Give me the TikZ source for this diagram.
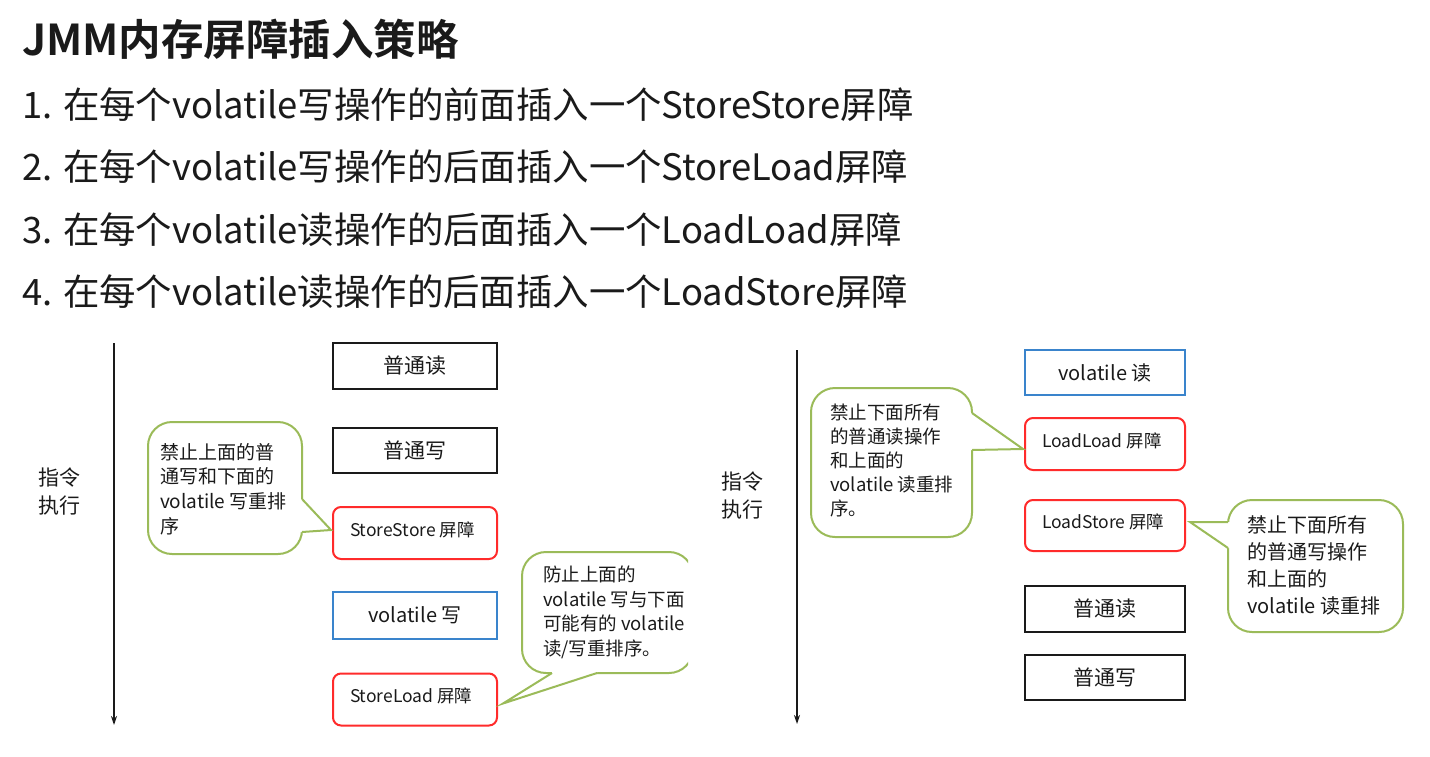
\documentclass[tikz,border=0pt]{standalone}
\usepackage{fontspec}
\setmainfont{Noto Sans CJK SC}
\newfontfamily\titlefont{Noto Sans CJK SC Bold}
\usetikzlibrary{arrows.meta}
\definecolor{barred}{HTML}{FF2B2B}
\definecolor{volblue}{HTML}{3A84CC}
\definecolor{tipgreen}{HTML}{9BBB59}
\definecolor{ink}{HTML}{1A1A1A}
\begin{document}
\begin{tikzpicture}[x=1pt,y=-1pt,
  every node/.style={inner sep=0pt, outer sep=0pt, text=ink},
  rulefont/.style={font=\fontsize{36.4}{43}\selectfont},
  plainbox/.style={draw=ink, line width=2.4pt, minimum height=46pt, font=\fontsize{21}{25}\selectfont},
  bluebox/.style={draw=volblue, line width=2pt, minimum height=46pt, font=\fontsize{20}{24}\selectfont},
  redbox/.style={draw=barred, line width=2pt, rounded corners=8pt, minimum height=52pt},
  boxlabel/.style={anchor=west, font=\fontsize{17.5}{21}\selectfont},
  bubble/.style={draw=tipgreen, line width=2pt, fill=white, rounded corners=24pt},
  bubbletip/.style={draw=tipgreen, line width=2pt, line join=miter},
  bubbletext/.style={anchor=north west, align=left},
  flowarrow/.style={draw=ink, line width=1.5pt, -{Stealth[length=9pt,width=6pt]}},
  sidelabel/.style={anchor=north west, align=left, font=\fontsize{21}{28}\selectfont}
]
\useasboundingbox (0,0) rectangle (1430,756);

% heading
\node[anchor=base west, font=\titlefont\fontsize{42.5}{50}\selectfont] (title) at (22,55.5) {JMM内存屏障插入策略};
\node[anchor=base west, rulefont] (r1) at (22,118) {1. 在每个volatile写操作的前面插入一个StoreStore屏障};
\node[anchor=base west, rulefont] (r2) at (22,180.5) {2. 在每个volatile写操作的后面插入一个StoreLoad屏障};
\node[anchor=base west, rulefont] (r3) at (22,243) {3. 在每个volatile读操作的后面插入一个LoadLoad屏障};
\node[anchor=base west, rulefont] (r4) at (22,305) {4. 在每个volatile读操作的后面插入一个LoadStore屏障};

% ---------- left diagram ----------
\coordinate (la) at (114,343);
\coordinate (lb) at (114,725);
\draw[flowarrow] (la) -- (lb);
\node[sidelabel] (lab1) at (38,468) {指令\\执行};

\node[plainbox, minimum width=164pt, minimum height=46pt] (pr1) at (415,366) {普通读};
\node[plainbox, minimum width=164pt, minimum height=45pt] (pw1) at (415,450.5) {普通写};
\node[redbox, minimum width=164pt] (ss) at (415,533) {};
\node[boxlabel] (sst) at (350,530) {StoreStore 屏障};
\node[bluebox, minimum width=164pt, minimum height=47pt] (vw) at (415,615.5) {volatile 写};
\node[redbox, minimum width=164pt] (sl) at (415,699.5) {};
\node[boxlabel] (slt) at (350,696) {StoreLoad 屏障};

% bubble 1
\draw[bubble] (148,422) rectangle (302,554);
\coordinate (b1a) at (302,499);
\coordinate (b1t) at ([xshift=-2pt,yshift=3pt]ss.west);
\coordinate (b1b) at (302,532);
\fill[white] (298,499) -- (b1a) -- (b1t) -- (b1b) -- (298,532) -- cycle;
\draw[bubbletip] (b1a) -- (b1t) -- (b1b);
\node[bubbletext, font=\fontsize{19}{24.7}\selectfont] (t1) at (160,443) {禁止上面的普\\通写和下面的\\volatile 写重排\\序};

% bubble 2 (cut off on the right)
\begin{scope}
\clip (0,0) rectangle (688,756);
\draw[bubble] (522,552) rectangle (693,673);
\end{scope}
\coordinate (b2a) at (552,673);
\coordinate (b2t) at ([xshift=6pt,yshift=-4pt]sl.east);
\coordinate (b2b) at (597,673);
\fill[white] (552,668) -- (b2a) -- (b2t) -- (b2b) -- (597,668) -- cycle;
\draw[bubbletip] (b2a) -- (b2t) -- (b2b);
\node[bubbletext, font=\fontsize{18.5}{24.5}\selectfont] (t2) at (543,566) {防止上面的\\volatile 写与下面\\可能有的 volatile\\读/写重排序。};

% ---------- right diagram ----------
\coordinate (ra) at (797,350);
\coordinate (rb) at (797,724);
\draw[flowarrow] (ra) -- (rb);
\node[sidelabel] (lab2) at (721,472) {指令\\执行};

\node[bluebox, minimum width=160pt, minimum height=45pt] (vr) at (1105,372.5) {volatile 读};
\node[redbox, minimum width=160pt] (ll) at (1105,444) {};
\node[boxlabel] (llt) at (1042,441) {LoadLoad 屏障};
\node[redbox, minimum width=160pt, minimum height=51pt] (ls) at (1105,525.5) {};
\node[boxlabel] (lst) at (1042,522) {LoadStore 屏障};
\node[plainbox, minimum width=160pt, minimum height=46pt] (pr2) at (1105,609) {普通读};
\node[plainbox, minimum width=160pt, minimum height=45pt] (pw2) at (1105,677.5) {普通写};

% bubble 3
\draw[bubble] (811,388) rectangle (972,537);
\coordinate (b3a) at (972,413);
\coordinate (b3t) at ([xshift=-2pt,yshift=-5pt]ll.west);
\coordinate (b3b) at (972,450);
\fill[white] (968,413) -- (b3a) -- (b3t) -- (b3b) -- (968,450) -- cycle;
\draw[bubbletip] (b3a) -- (b3t) -- (b3b);
\node[bubbletext, font=\fontsize{18.5}{24}\selectfont] (t3) at (830,404) {禁止下面所有\\的普通读操作\\和上面的\\volatile 读重排\\序。};

% bubble 4
\draw[bubble] (1228,500) rectangle (1403,632);
\coordinate (b4a) at (1228,522);
\coordinate (b4t) at ([xshift=5pt,yshift=3.5pt]ls.east);
\coordinate (b4b) at (1228,548);
\fill[white] (1232,522) -- (b4a) -- (b4t) -- (b4b) -- (1232,548) -- cycle;
\draw[bubbletip] (b4a) -- (b4t) -- (b4b);
\node[bubbletext, font=\fontsize{20}{27}\selectfont] (t4) at (1247,516) {禁止下面所有\\的普通写操作\\和上面的\\volatile 读重排};
\end{tikzpicture}
\end{document}
